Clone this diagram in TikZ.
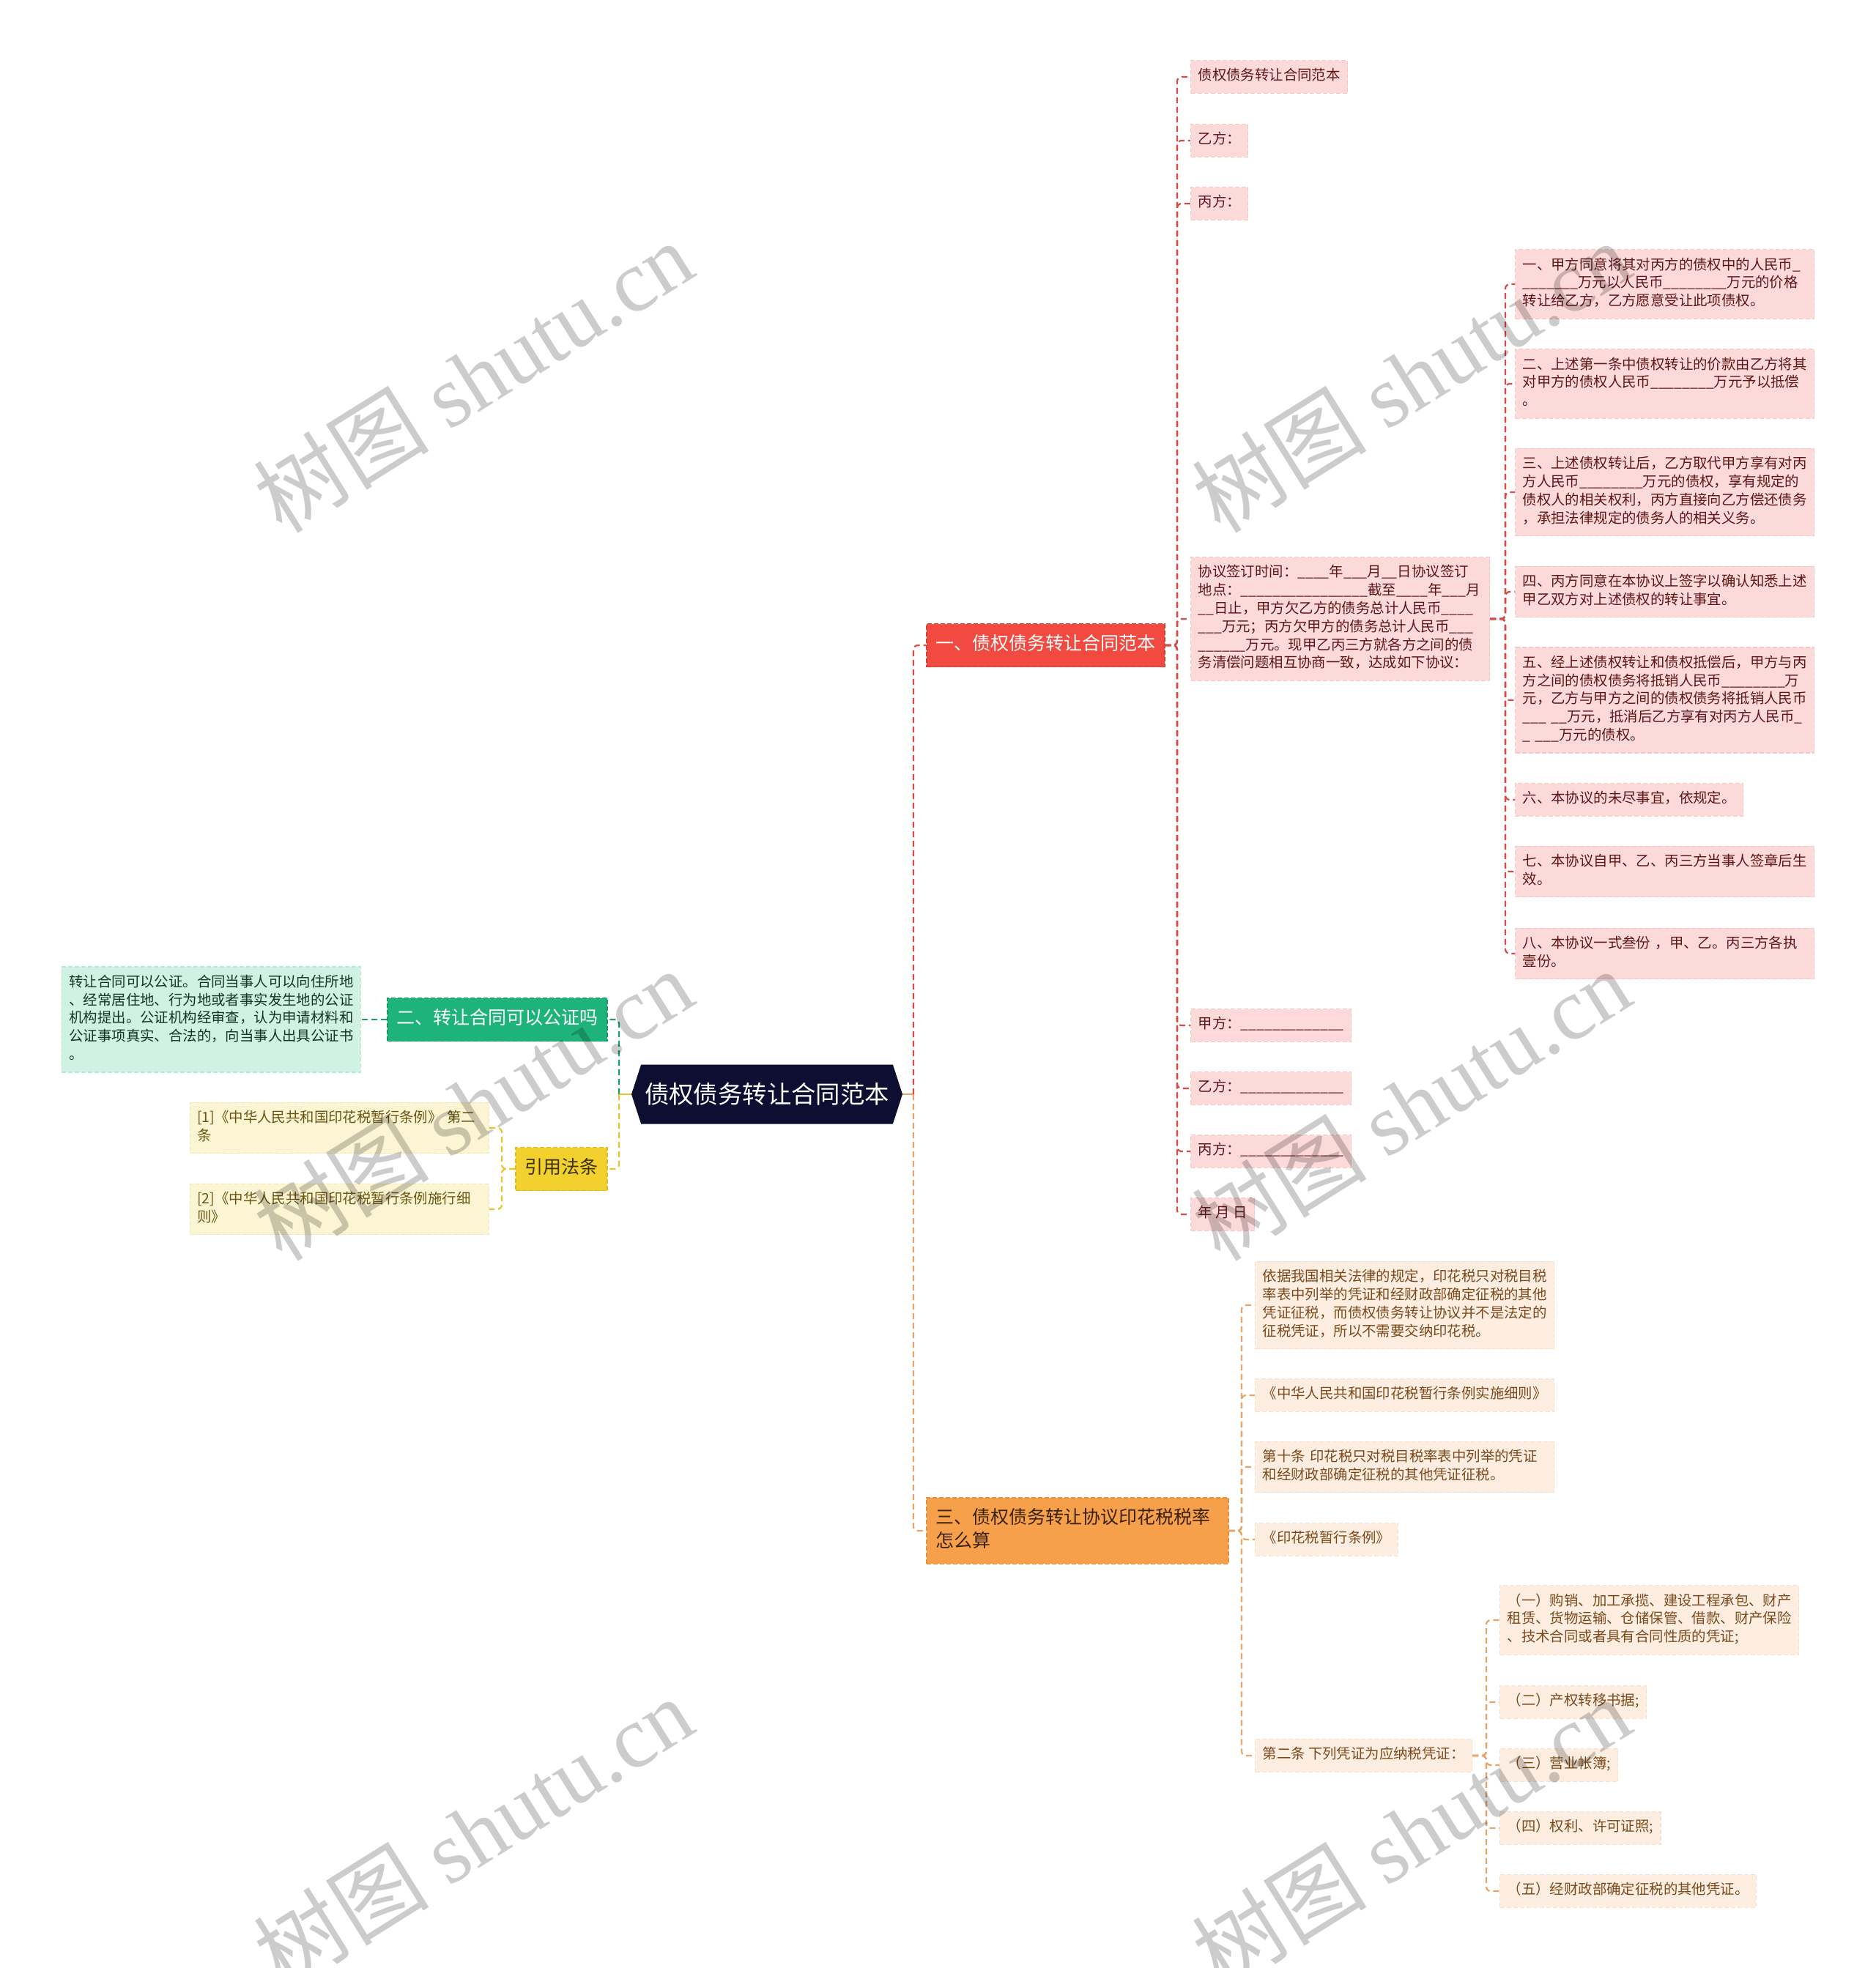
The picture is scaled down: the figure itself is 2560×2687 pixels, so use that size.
\documentclass[tikz,border=0pt]{standalone}
\usepackage{fontspec}
\setmainfont{Noto Sans CJK SC}
\newfontfamily\wmserif{Liberation Serif}
\usetikzlibrary{shapes.symbols}
\definecolor{rootF}{HTML}{0E0E33}
\definecolor{redF}{HTML}{F24A40}
\definecolor{redD}{HTML}{D93A32}
\definecolor{greenF}{HTML}{1DB37A}
\definecolor{greenD}{HTML}{149A66}
\definecolor{yelF}{HTML}{F2D12E}
\definecolor{yelD}{HTML}{DDBB20}
\definecolor{oraF}{HTML}{F6A04C}
\definecolor{oraD}{HTML}{E58E3A}
\definecolor{pinkF}{HTML}{FDDADA}
\definecolor{pinkD}{HTML}{F7C6C6}
\definecolor{pinkT}{HTML}{5E1616}
\definecolor{mintF}{HTML}{CFF2E4}
\definecolor{mintD}{HTML}{B8E8D4}
\definecolor{mintT}{HTML}{123528}
\definecolor{lyelF}{HTML}{FCF5D3}
\definecolor{lyelD}{HTML}{F3E8B8}
\definecolor{lyelT}{HTML}{6A5512}
\definecolor{peachF}{HTML}{FDEEE1}
\definecolor{peachD}{HTML}{F6DFCB}
\definecolor{peachT}{HTML}{7B4A1C}
\definecolor{cRed}{HTML}{D84A45}
\definecolor{cGreen}{HTML}{1AA070}
\definecolor{cYel}{HTML}{E6C42A}
\definecolor{cOra}{HTML}{E8A466}
\tikzset{
  base/.style={inner xsep=5pt, inner ysep=5pt,
    font=\fontsize{9.7pt}{12.4pt}\selectfont,
    execute at begin node=\strut, execute at end node=\strut,
    dash pattern=on 3pt off 1.5pt, line width=0.6pt},
  wide/.style={text width=194pt, align=left},
  pinkbox/.style={base, fill=pinkF, draw=pinkD, text=pinkT, anchor=west},
  mintbox/.style={base, fill=mintF, draw=mintD, text=mintT, anchor=east},
  lyelbox/.style={base, fill=lyelF, draw=lyelD, text=lyelT, anchor=east},
  peachbox/.style={base, fill=peachF, draw=peachD, text=peachT, anchor=west},
  branch/.style={inner xsep=6.25pt, inner ysep=6.85pt,
    font=\fontsize{12.5pt}{15.8pt}\selectfont,
    execute at begin node=\strut, execute at end node=\strut,
    dash pattern=on 3pt off 1.5pt, line width=0.8pt},
  rootbox/.style={signal, signal to=east and west, signal pointer angle=144,
    fill=rootF, text=white, font=\fontsize{16.7pt}{20pt}\selectfont,
    minimum height=40.5pt, minimum width=185pt, inner xsep=0pt, inner ysep=0pt},
  link/.style={line width=1.1pt, dash pattern=on 4pt off 2.5pt, rounded corners=3pt},
  lred/.style={link, draw=cRed},
  lgreen/.style={link, draw=cGreen},
  lyel/.style={link, draw=cYel},
  lora/.style={link, draw=cOra},
  wmark/.style={text=black, text opacity=0.2, font=\fontsize{60pt}{60pt}\selectfont, rotate=32},
}
\begin{document}
\catcode`\_=12
\begin{tikzpicture}[x=0.5pt,y=-0.5pt]
\useasboundingbox[fill=white] (0,0) rectangle (2560,2687);

% root
\node[rootbox] (root) at (1047,1494) {债权债务转让合同范本};
\coordinate (tR) at (1247,1494);
\coordinate (tL) at (845,1494);

% branches
\node[branch, fill=redF, draw=redD, text=white, anchor=west] (b1) at (1264,881) {一、债权债务转让合同范本};
\node[branch, fill=greenF, draw=greenD, text=white, anchor=east] (b2) at (830,1392) {二、转让合同可以公证吗};
\node[branch, fill=yelF, draw=yelD, text={rgb,255:red,59;green,49;blue,0}, anchor=east] (b4) at (830,1596) {引用法条};
\node[branch, fill=oraF, draw=oraD, text={rgb,255:red,58;green,34;blue,8}, anchor=west, text width=193.5pt, align=left] (b3) at (1264,2090) {三、债权债务转让协议印花税税率\\怎么算};

% branch 1 children
\coordinate (tB1) at (1607,881);
\node[pinkbox] (c1) at (1625,105) {债权债务转让合同范本};
\node[pinkbox] (c2) at (1625,192) {乙方：};
\node[pinkbox] (c3) at (1625,278) {丙方：};
\node[pinkbox, wide] (c4) at (1625,845) {协议签订时间：____年___月__日协议签订\\地点：________________截至____年___月\\__日止，甲方欠乙方的债务总计人民币____\\___万元；丙方欠甲方的债务总计人民币___\\______万元。现甲乙丙三方就各方之间的债\\务清偿问题相互协商一致，达成如下协议：};
\node[pinkbox] (c5) at (1625,1400) {甲方：_____________};
\node[pinkbox] (c6) at (1625,1486) {乙方：_____________};
\node[pinkbox] (c7) at (1625,1572) {丙方：_____________};
\node[pinkbox] (c8) at (1625,1658) {年 月 日};

% c4 children
\coordinate (tC4) at (2055,845);
\node[pinkbox, wide] (d1) at (2068,388) {一、甲方同意将其对丙方的债权中的人民币_\\_______万元以人民币________万元的价格\\转让给乙方，乙方愿意受让此项债权。};
\node[pinkbox, wide] (d2) at (2068,524) {二、上述第一条中债权转让的价款由乙方将其\\对甲方的债权人民币________万元予以抵偿\\。};
\node[pinkbox, wide] (d3) at (2068,672) {三、上述债权转让后，乙方取代甲方享有对丙\\方人民币________万元的债权，享有规定的\\债权人的相关权利，丙方直接向乙方偿还债务\\，承担法律规定的债务人的相关义务。};
\node[pinkbox, wide] (d4) at (2068,808) {四、丙方同意在本协议上签字以确认知悉上述\\甲乙双方对上述债权的转让事宜。};
\node[pinkbox, wide] (d5) at (2068,956) {五、经上述债权转让和债权抵偿后，甲方与丙\\方之间的债权债务将抵销人民币________万\\元，乙方与甲方之间的债权债务将抵销人民币\\___ __万元，抵消后乙方享有对丙方人民币_\\_ ___万元的债权。};
\node[pinkbox] (d6) at (2068,1092) {六、本协议的未尽事宜，依规定。};
\node[pinkbox, wide] (d7) at (2068,1190) {七、本协议自甲、乙、丙三方当事人签章后生\\效。};
\node[pinkbox, wide] (d8) at (2068,1302) {八、本协议一式叁份 ，甲、乙。丙三方各执\\壹份。};

% branch 2 child
\node[mintbox, wide] (m1) at (493,1392) {转让合同可以公证。合同当事人可以向住所地\\、经常居住地、行为地或者事实发生地的公证\\机构提出。公证机构经审查，认为申请材料和\\公证事项真实、合法的，向当事人出具公证书\\。};

% branch 4 children
\coordinate (tG) at (685,1596);
\node[lyelbox, wide] (g1) at (668,1540) {[1]《中华人民共和国印花税暂行条例》~第二\\条};
\node[lyelbox, wide] (g2) at (668,1651) {[2]《中华人民共和国印花税暂行条例施行细\\则》};

% branch 3 children
\coordinate (tB3) at (1695,2090);
\node[peachbox, wide] (e1) at (1713,1782) {依据我国相关法律的规定，印花税只对税目税\\率表中列举的凭证和经财政部确定征税的其他\\凭证征税，而债权债务转让协议并不是法定的\\征税凭证，所以不需要交纳印花税。};
\node[peachbox] (e2) at (1713,1905) {《中华人民共和国印花税暂行条例实施细则》};
\node[peachbox, wide] (e3) at (1713,2003) {第十条~印花税只对税目税率表中列举的凭证\\和经财政部确定征税的其他凭证征税。};
\node[peachbox] (e4) at (1713,2102) {《印花税暂行条例》};
\node[peachbox] (e5) at (1713,2397) {第二条 下列凭证为应纳税凭证：};

% e5 children
\coordinate (tE5) at (2029,2397);
\node[peachbox, wide] (f1) at (2047,2212) {（一）购销、加工承揽、建设工程承包、财产\\租赁、货物运输、仓储保管、借款、财产保险\\、技术合同或者具有合同性质的凭证;};
\node[peachbox] (f2) at (2047,2324) {（二）产权转移书据;};
\node[peachbox] (f3) at (2047,2410) {（三）营业帐簿;};
\node[peachbox] (f4) at (2047,2496) {（四）权利、许可证照;};
\node[peachbox] (f5) at (2047,2582) {（五）经财政部确定征税的其他凭证。};

% connectors: root
\draw[line width=1.1pt, cOra] (root.east) -- (tR);
\draw[lred] (tR) -- (tR |- b1.west) -- (b1.west);
\draw[lora] (tR) -- (tR |- b3.west) -- (b3.west);
\draw[line width=1.1pt, cYel] (root.west) -- (tL);
\draw[lgreen] (tL) -- (tL |- b2.east) -- (b2.east);
\draw[lyel] (tL) -- (tL |- b4.east) -- (b4.east);

% branch 2 and 4
\draw[lgreen] (b2.west) -- (m1.east);
\foreach \n in {g1,g2}
  \draw[lyel] (b4.west) -- (tG) -- (tG |- \n.east) -- (\n.east);

% branch 1
\foreach \n in {c1,c2,c3,c4,c5,c6,c7,c8}
  \draw[lred] (b1.east) -- (tB1) -- (tB1 |- \n.west) -- (\n.west);
\foreach \n in {d1,d2,d3,d4,d5,d6,d7,d8}
  \draw[lred] (c4.east) -- (tC4) -- (tC4 |- \n.west) -- (\n.west);

% branch 3
\foreach \n in {e1,e2,e3,e4,e5}
  \draw[lora] (b3.east) -- (tB3) -- (tB3 |- \n.west) -- (\n.west);
\foreach \n in {f1,f2,f3,f4,f5}
  \draw[lora] (e5.east) -- (tE5) -- (tE5 |- \n.west) -- (\n.west);

% watermarks
\node[wmark] (w1) at (646,514) {树图 {\wmserif shutu.cn}};
\node[wmark] (w2) at (1926,514) {树图 {\wmserif shutu.cn}};
\node[wmark] (w3) at (646,1508) {树图 {\wmserif shutu.cn}};
\node[wmark] (w4) at (1926,1508) {树图 {\wmserif shutu.cn}};
\node[wmark] (w5) at (646,2502) {树图 {\wmserif shutu.cn}};
\node[wmark] (w6) at (1926,2502) {树图 {\wmserif shutu.cn}};
\end{tikzpicture}
\end{document}
